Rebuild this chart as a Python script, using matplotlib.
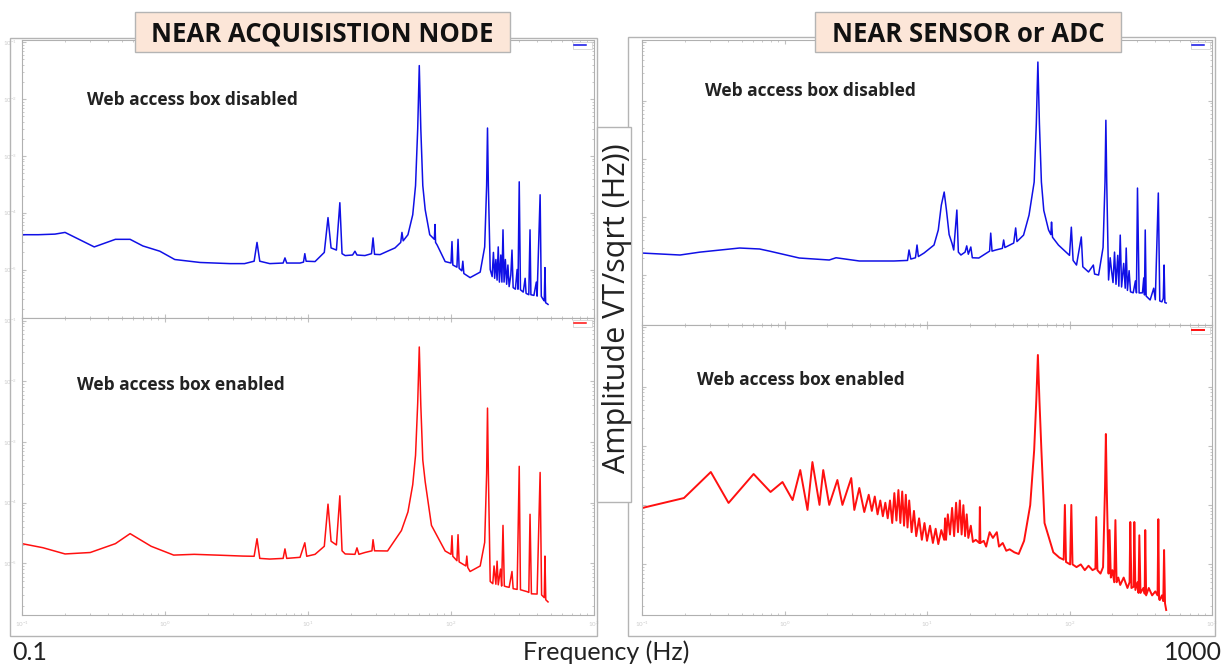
import matplotlib.pyplot as plt
from matplotlib.patches import Rectangle

# Spectra: frequency (Hz) and amplitude (V/sqrt(Hz))
# Near acquisition node, web access box disabled (blue)
acq_off_f = [0.1, 0.13, 0.17, 0.2, 0.32, 0.45, 0.57, 0.7, 0.92, 1.17,
             1.76, 2.85, 3.6, 4.2, 4.4, 4.6, 5.4, 6.7, 6.9, 7.1,
             8.8, 9.3, 9.5, 9.7, 11.2, 13.0, 13.8, 14.5, 15.8, 16.7,
             17.3, 18.2, 20.5, 21.3, 22.0, 25, 27.8, 28.5, 29.2, 31.9,
             36, 40.6, 44.5, 45.4, 46.3, 50, 54, 56.5, 58.5, 60, 61.5, 63.5,
             66, 71, 76.5, 77.3, 78, 80, 91, 100, 101.6, 103,
             110, 112, 114, 119, 121, 123, 136, 160, 172, 177.5, 180, 182.5,
             188, 194, 198, 202, 206, 210, 214, 218, 223, 227,
             231, 235, 240, 245, 250, 255, 262, 267, 272, 282,
             290, 294, 300, 306, 320, 330, 335, 350, 357, 362,
             380, 395, 400, 420, 428, 440, 449, 454, 459, 470, 477]
acq_off_a = [4.1e-5, 4.1e-5, 4.2e-5, 4.5e-5, 2.5e-5, 3.4e-5, 3.4e-5, 2.6e-5, 2.1e-5, 1.5e-5,
             1.33e-5, 1.27e-5, 1.27e-5, 1.4e-5, 3.0e-5, 1.4e-5, 1.27e-5, 1.3e-5, 1.6e-5, 1.3e-5,
             1.3e-5, 1.35e-5, 1.9e-5, 1.4e-5, 1.38e-5, 2.0e-5, 8.2e-5, 2.4e-5, 2.2e-5, 1.5e-4,
             1.9e-5, 1.76e-5, 1.8e-5, 2.1e-5, 1.8e-5, 1.76e-5, 1.9e-5, 3.6e-5, 1.85e-5, 1.83e-5,
             2.1e-5, 2.4e-5, 3.0e-5, 4.5e-5, 3.2e-5, 4.1e-5, 9.2e-5, 3e-4, 3e-3, 3.9e-2, 3e-3, 3e-4,
             1.13e-4, 4.1e-5, 3.4e-5, 6.2e-5, 3.0e-5, 2.7e-5, 1.38e-5, 1.3e-5, 3.1e-5, 1.2e-5,
             1.1e-5, 3.4e-5, 1.05e-5, 9.5e-6, 1.4e-5, 8.5e-6, 7.2e-6, 9e-6, 2.5e-5, 3e-4, 3.1e-3, 3e-4,
             1.0e-5, 7.5e-6, 2.0e-5, 7e-6, 1.5e-5, 6.5e-6, 2.5e-5, 6e-6, 1.8e-5, 6e-6,
             5e-5, 6e-6, 1.5e-5, 5.5e-6, 1.2e-5, 5e-6, 8e-6, 2.2e-5, 4.8e-6, 4.5e-6,
             1.0e-5, 4.5e-6, 3.5e-4, 4.4e-6, 4e-6, 7e-6, 3.8e-6, 3.6e-6, 5e-5, 3.6e-6,
             3.5e-6, 6e-6, 3.4e-6, 2.07e-4, 3.37e-6, 3e-6, 2.8e-6, 1.08e-5, 2.6e-6, 2.5e-6, 2.43e-6]

# Near acquisition node, web access box enabled (red)
acq_on_f = [0.1, 0.14, 0.2, 0.3, 0.45, 0.57, 0.8, 1.15, 1.6, 2.5,
            3.5, 4.2, 4.4, 4.6, 5.4, 6.7, 6.9, 7.1, 8.8, 9.5,
            9.8, 11.2, 13.0, 13.8, 14.5, 15.8, 16.7, 17.3, 18.2, 21.3,
            22.0, 22.7, 25, 28, 28.5, 29.2, 36, 45, 50, 54,
            56.5, 58.5, 60, 61.5, 63.5, 66, 73, 91, 100, 101.6,
            103, 110, 112, 114, 127, 129, 131, 136, 160, 172,
            177.5, 180, 182.5, 188, 196, 200, 206, 210, 214, 222,
            226, 231, 236, 243, 255, 267, 272, 290, 300, 306,
            340, 350, 357, 365, 400, 420, 430, 449, 454, 460, 477]
acq_on_a = [2.1e-5, 1.8e-5, 1.42e-5, 1.5e-5, 2.1e-5, 3.07e-5, 1.9e-5, 1.36e-5, 1.4e-5, 1.35e-5,
            1.31e-5, 1.3e-5, 2.53e-5, 1.2e-5, 1.17e-5, 1.2e-5, 1.72e-5, 1.2e-5, 1.25e-5, 2.17e-5,
            1.3e-5, 1.4e-5, 1.9e-5, 9.4e-5, 2.3e-5, 2.0e-5, 1.29e-4, 1.6e-5, 1.42e-5, 1.4e-5,
            1.79e-5, 1.4e-5, 1.5e-5, 1.6e-5, 2.44e-5, 1.6e-5, 1.59e-5, 3.45e-5, 7e-5, 1.97e-4,
            6e-4, 4.35e-3, 3.66e-2, 4e-3, 5e-4, 2.2e-4, 4.2e-5, 1.59e-5, 1.4e-5, 2.84e-5,
            1.3e-5, 1.1e-5, 2.95e-5, 1.05e-5, 9e-6, 1.31e-5, 8.5e-6, 7.3e-6, 9e-6, 2.2e-5,
            3e-4, 3.6e-3, 3e-4, 5e-6, 4.6e-6, 9e-6, 4.5e-6, 1.08e-5, 4.4e-6, 8e-6,
            4.2e-6, 4.2e-5, 4.2e-6, 4.1e-6, 4e-6, 7.3e-6, 3.8e-6, 3.7e-6, 3.95e-4, 3.65e-6,
            3.4e-6, 3.3e-6, 6.4e-5, 3.13e-6, 3.1e-6, 3.13e-4, 3.0e-6, 2.7e-6, 1.31e-5, 2.5e-6, 2.3e-6]

# Near sensor / ADC, web access box disabled (blue)
adc_off_f = [0.1, 0.185, 0.255, 0.484, 0.668, 0.785, 1.27, 2.06, 2.3, 3.35,
             5.87, 7.3, 7.48, 7.7, 8.3, 8.51, 8.7, 9.53, 11.2, 12.0,
             12.6, 13.2, 13.7, 14.3, 15.0, 15.4, 16.2, 16.6, 17.3, 18.5, 19.0, 19.5,
             20.3, 20.8, 23.1, 27.5, 28.0, 28.6, 30.4, 33.8, 34.5, 35.2,
             40.6, 41.9, 42.8, 47.6, 52, 56.5, 58.5, 60, 61.5, 63.5,
             66, 71.3, 74, 74.8, 76, 83.7, 100, 103, 106, 112,
             121, 124, 136, 147, 150, 160, 172, 177.5, 180, 182.5,
             188, 193, 197, 202, 207, 212, 218, 222, 227, 232,
             240, 246, 250, 255, 262, 268, 280, 290, 295, 300,
             308, 325, 332, 336, 340, 345, 368, 390, 400, 420,
             430, 445, 455, 461, 467, 477]
adc_off_a = [2.41e-5, 2.23e-5, 2.5e-5, 2.94e-5, 2.83e-5, 2.6e-5, 1.98e-5, 1.83e-5, 2.0e-5, 1.76e-5,
             1.76e-5, 1.8e-5, 2.72e-5, 1.9e-5, 2.0e-5, 3.31e-5, 2.1e-5, 2.41e-5, 3.31e-5, 6e-5,
             1.6e-4, 2.69e-4, 1.3e-4, 5e-5, 3.5e-5, 2.72e-5, 1.32e-4, 2.5e-5, 2.23e-5, 2.5e-5, 3.2e-5, 2.3e-5,
             3.06e-5, 2.0e-5, 1.98e-5, 2.6e-5, 5.3e-5, 2.6e-5, 2.72e-5, 2.9e-5, 4.04e-5, 3.0e-5,
             3.58e-5, 6.5e-5, 3.8e-5, 4.9e-5, 1.08e-4, 4e-4, 4e-3, 4.6e-2, 4e-3, 4e-4,
             1.3e-4, 6e-5, 5e-5, 8.2e-5, 4.5e-5, 3.3e-5, 2.2e-5, 6.7e-5, 1.8e-5, 1.5e-5,
             4.55e-5, 1.4e-5, 1.14e-5, 1.5e-5, 1.05e-5, 1.01e-5, 3e-5, 4e-4, 4.6e-3, 4e-4,
             8.3e-6, 2e-5, 1.23e-5, 7.5e-6, 2.5e-5, 7e-6, 2.2e-5, 6.5e-6, 4.9e-5, 6.3e-6,
             1.6e-5, 6e-6, 2.94e-5, 5.5e-6, 1.2e-5, 5.2e-6, 5e-6, 8e-6, 5e-6, 3.15e-4,
             4.97e-6, 5e-6, 9e-6, 4.6e-6, 6.0e-5, 4.4e-6, 3.77e-6, 6e-6, 3.8e-6, 2.59e-4,
             3.62e-6, 3.5e-6, 4e-6, 1.5e-5, 3.4e-6, 3.34e-6]

# Near sensor / ADC, web access box enabled (red)
adc_on_f = [0.1, 0.197, 0.304, 0.405, 0.607, 0.798, 0.968, 1.14, 1.29, 1.45,
            1.57, 1.76, 1.87, 2.06, 2.35, 2.55, 2.94, 3.09, 3.35, 3.63,
            3.9, 4.1, 4.3, 4.5, 4.7, 4.9, 5.1, 5.3, 5.5, 5.7,
            5.9, 6.1, 6.3, 6.5, 6.7, 6.9, 7.1, 7.3, 7.5, 7.8,
            8.1, 8.4, 8.8, 9.2, 9.6, 10.0, 10.5, 11.0, 11.5, 12.0,
            12.6, 13.2, 13.4, 13.6, 14.0, 14.5, 15.0, 15.5, 16.0, 16.5,
            17.0, 17.5, 18.0, 18.5, 19.0, 19.5, 20.3, 21.0, 22.0, 23.3,
            23.5, 23.7, 25.0, 26.0, 27.5, 29.0, 30.9, 32.0, 34.0, 36.0,
            38.0, 41.0, 44.0, 48.0, 53.0, 56.5, 58.5, 60, 61.5, 63.5,
            66.8, 77, 85, 91, 92.8, 94.5, 101, 103, 105, 112,
            120, 128, 136, 145, 152, 154, 157, 165, 172, 177.5,
            180, 182.5, 188, 191, 195, 200, 206, 210, 214, 220,
            227, 240, 255, 264, 267, 272, 282, 285, 290, 300,
            305, 309, 315, 330, 337, 340, 345, 360, 380, 400,
            415, 420, 425, 430, 445, 455, 461, 468, 477]
adc_on_a = [8.95e-5, 1.32e-4, 3.63e-4, 1.09e-4, 3.36e-4, 1.67e-4, 2.46e-4, 1.22e-4, 3.92e-4, 8.3e-5,
            5.35e-4, 1.01e-4, 3.92e-4, 1.01e-4, 2.66e-4, 1.01e-4, 2.87e-4, 8.3e-5, 1.95e-4, 7.66e-5,
            1.5e-4, 8e-5, 1.4e-4, 7e-5, 1.2e-4, 6.5e-5, 1.1e-4, 6e-5, 1.2e-4, 5e-5,
            1.6e-4, 5.5e-5, 1.8e-4, 5e-5, 1.7e-4, 4.5e-5, 1.5e-4, 4.2e-5, 1.2e-4, 3.5e-5,
            8e-5, 3e-5, 6e-5, 2.6e-5, 5e-5, 2.5e-5, 4.5e-5, 2.3e-5, 4e-5, 2.2e-5,
            3.8e-5, 2.6e-5, 6e-5, 2.6e-5, 7e-5, 3.2e-5, 9e-5, 3e-5, 1.1e-4, 3.5e-5,
            1.2e-4, 3.2e-5, 1.0e-4, 3e-5, 7e-5, 2.8e-5, 4.5e-5, 2.4e-5, 2.6e-5, 2.3e-5,
            9.3e-5, 2.3e-5, 2.5e-5, 2.0e-5, 3.5e-5, 2.8e-5, 3.5e-5, 2.0e-5, 2.3e-5, 1.7e-5,
            1.8e-5, 1.6e-5, 1.5e-5, 2.5e-5, 1.0e-4, 8.5e-4, 6e-3, 3.43e-2, 6e-3, 8.5e-4,
            5e-5, 1.6e-5, 1.3e-5, 1.2e-5, 1.01e-4, 1.1e-5, 1.0e-5, 1.01e-4, 1.0e-5, 9e-6,
            1.0e-5, 8e-6, 9.5e-6, 8e-6, 8.5e-6, 6.3e-5, 8e-6, 7e-6, 9e-6, 2e-4,
            1.59e-3, 2e-4, 7e-6, 3.8e-5, 6e-6, 8e-6, 5e-6, 5.6e-5, 5e-6, 6e-6,
            4.5e-6, 6e-6, 4e-6, 5e-6, 5.2e-5, 4e-6, 4.2e-6, 5.2e-5, 3.7e-6, 5e-6,
            3.3e-6, 3.1e-5, 3.3e-6, 4e-6, 3.2e-6, 3.8e-5, 3e-6, 4e-6, 3e-6, 3.5e-6,
            3e-6, 5.8e-5, 2.6e-6, 2.5e-6, 3e-6, 2.4e-6, 1.75e-5, 2.2e-6, 1.7e-6]

plt.rcParams['font.family'] = ['Lato', 'DejaVu Sans']

W, H = 1229, 666
fig = plt.figure(figsize=(W / 100, H / 100), dpi=100)


def px_rect(x0, y0, x1, y1):
    # pixel box (top-left origin) -> figure fraction [left, bottom, width, height]
    return [x0 / W, 1 - y1 / H, (x1 - x0) / W, (y1 - y0) / H]


def panel(box, f, a, color, show_x, show_y, lw=1.1):
    ax = fig.add_axes(px_rect(*box))
    ax.plot(f, a, color=color, lw=lw, label=' ')
    ax.set_xscale('log')
    ax.set_yscale('log')
    ax.set_xlim(0.1, 1000)
    ax.set_ylim(1.4e-6, 1.1e-1)
    for s in ax.spines.values():
        s.set_color('#b0b0b0')
        s.set_linewidth(0.8)
    ax.tick_params(which='both', direction='in', top=True, right=True,
                   color='#c0c0c0', labelsize=4.5, labelcolor='#cccccc')
    ax.tick_params(which='major', length=3)
    ax.tick_params(which='minor', length=1.5)
    if not show_x:
        ax.tick_params(axis='x', which='both', labelbottom=False)
    if not show_y:
        ax.tick_params(axis='y', which='both', labelleft=False)
    leg = ax.legend(loc='upper right', fontsize=3, handlelength=3, borderpad=0.3,
                    fancybox=False, edgecolor='#cccccc', framealpha=1)
    leg.get_frame().set_linewidth(0.5)
    return ax


panel((22, 40, 594, 318), acq_off_f, acq_off_a, '#1010e6', False, True)
panel((22, 318, 594, 615), acq_on_f, acq_on_a, '#ff1010', True, True)
panel((642, 40, 1212, 325), adc_off_f, adc_off_a, '#1010e6', False, False)
panel((642, 325, 1212, 615), adc_on_f, adc_on_a, '#ff1010', True, False, lw=1.4)

# outer slide frames and the y-label box between them
for box in [(10, 38, 597, 636), (628, 37, 1215, 636)]:
    r = px_rect(*box)
    fig.add_artist(Rectangle(r[:2], *r[2:], transform=fig.transFigure,
                             fill=False, ec='#b4b4b4', lw=1, zorder=4))
lb = px_rect(597, 127, 631, 502)
fig.add_artist(Rectangle(lb[:2], *lb[2:], transform=fig.transFigure,
                         fc='white', ec='#b4b4b4', lw=1, zorder=5))

# title tabs
for box, title in [((135, 12, 510, 52), 'NEAR ACQUISISTION NODE'),
                   ((815, 12, 1121, 52), 'NEAR SENSOR or ADC')]:
    r = px_rect(*box)
    fig.add_artist(Rectangle(r[:2], *r[2:], transform=fig.transFigure,
                             fc='#fce6d8', ec='#b4b4b4', lw=1, zorder=6))
    fig.text(r[0] + r[2] / 2, 1 - 34 / H, title, ha='center', va='center',
             fontsize=18.5, fontweight='bold', color='#111111', zorder=7,
             family=['Open Sans', 'DejaVu Sans'])

# annotations inside the panels
notes = [(87, 100, 'Web access box disabled'), (705, 91, 'Web access box disabled'),
         (77, 385, 'Web access box enabled'), (697, 380, 'Web access box enabled')]
for x, y, t in notes:
    fig.text(x / W, 1 - y / H, t, ha='left', va='center', fontsize=12.5,
             fontweight='bold', color='#222222', zorder=7,
             family=['Open Sans', 'DejaVu Sans'])

fig.text(12 / W, 1 - 652 / H, '0.1', ha='left', va='center', fontsize=18, color='#222222')
fig.text(606 / W, 1 - 652 / H, 'Frequency (Hz)', ha='center', va='center', fontsize=18, color='#222222')
fig.text(1222 / W, 1 - 652 / H, '1000', ha='right', va='center', fontsize=18, color='#222222')
fig.text(617 / W, 1 - 308 / H, 'Amplitude VT/sqrt (Hz))', ha='center', va='center',
         rotation=90, fontsize=22, color='#222222', zorder=7,
         family=['Open Sans', 'DejaVu Sans'])

fig.savefig('out.png', dpi=100)
